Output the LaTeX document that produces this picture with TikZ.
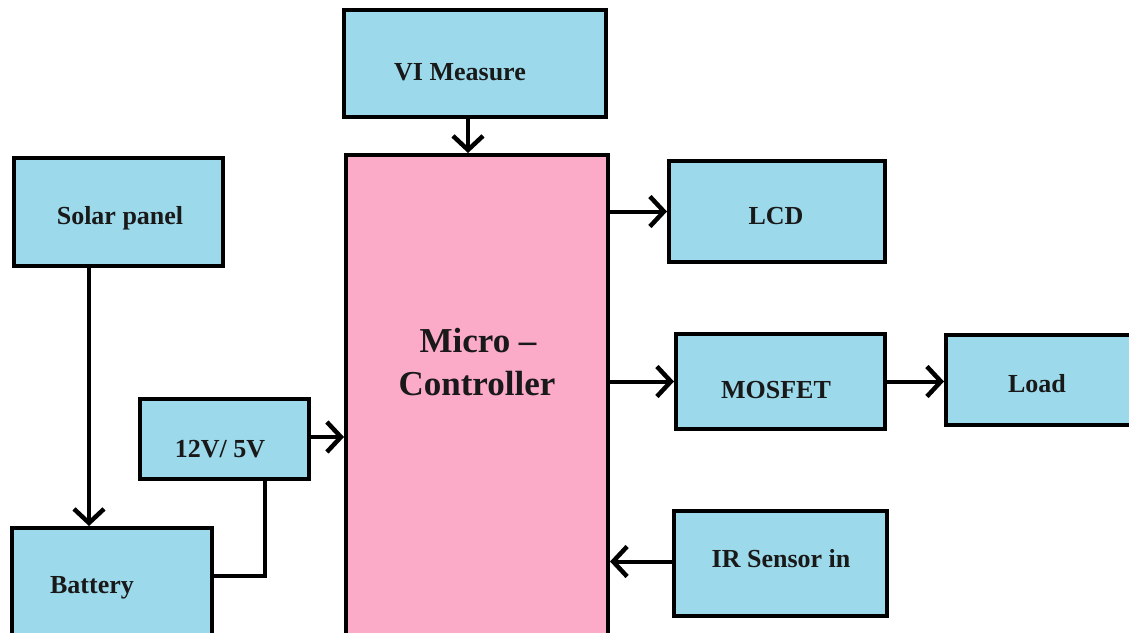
\documentclass[tikz,border=0pt]{standalone}
\usepackage{fontspec}
\setmainfont{Liberation Serif}
\usetikzlibrary{arrows.meta}
\definecolor{boxblue}{RGB}{156,218,235}
\definecolor{mcpink}{RGB}{251,170,200}
\definecolor{txt}{RGB}{25,25,25}
\begin{document}
\begin{tikzpicture}[x=1pt,y=-1pt,
  blk/.style={draw=black, line width=4pt, fill=boxblue, rectangle, inner sep=0pt},
  lbl/.style={text=txt, font=\bfseries\fontsize{26}{30}\selectfont, inner sep=0pt, anchor=base},
  biglbl/.style={text=txt, font=\bfseries\fontsize{35}{40}\selectfont, inner sep=0pt, anchor=base},
  conn/.style={line width=4pt, draw=black},
  arr/.style={conn, -{Straight Barb[length=14pt,width=30pt,line width=4.5pt]}}]
\useasboundingbox (0,0) rectangle (1129,632);
\clip (0,0) rectangle (1129,632);
\fill[white] (0,0) rectangle (1129,632);
% boxes
\node[blk, minimum width=262pt, minimum height=107pt] (vi) at (475,63.5) {};
\node[blk, minimum width=209pt, minimum height=108pt] (sol) at (118.5,212) {};
\node[blk, minimum width=169pt, minimum height=80pt] (v) at (224.5,439) {};
\node[blk, minimum width=200pt, minimum height=112pt] (bat) at (112,584) {};
\node[blk, fill=mcpink, minimum width=262pt, minimum height=485pt] (mc) at (477,397.5) {};
\node[blk, minimum width=216pt, minimum height=101pt] (lcd) at (777,211.5) {};
\node[blk, minimum width=209pt, minimum height=95pt] (mos) at (780.5,381.5) {};
\node[blk, minimum width=194pt, minimum height=90pt] (load) at (1043,380) {};
\node[blk, minimum width=213pt, minimum height=105pt] (ir) at (780.5,563.5) {};
% labels
\node[lbl] (tvi) at (460,80) {VI Measure};
\node[lbl] (tsol) at (120,224) {Solar panel};
\node[lbl] (tv) at (220,457) {12V/ 5V};
\node[lbl] (tbat) at (92,593) {Battery};
\node[biglbl] (tmc1) at (478,352) {Micro –};
\node[biglbl] (tmc2) at (477,395) {Controller};
\node[lbl] (tlcd) at (776,224) {LCD};
\node[lbl] (tmos) at (776,398) {MOSFET};
\node[lbl] (tload) at (1037,392) {Load};
\node[lbl] (tir) at (781,567) {IR Sensor in};
% connectors
\draw[arr] ([xshift=-7pt]vi.south) -- ([xshift=-7pt]vi.south |- mc.north);
\draw[arr] ([xshift=-29.5pt]sol.south) -- ([xshift=-29.5pt]sol.south |- bat.north);
\draw[arr] ([yshift=2pt]v.east) -- ([yshift=2pt]v.east -| mc.west);
\draw[conn] ([yshift=8pt]bat.east) -| ([xshift=40.5pt]v.south);
\draw[arr] (lcd.west -| mc.east) -- (lcd.west);
\draw[arr] (mos.west -| mc.east) -- (mos.west);
\draw[arr] (mos.east) -- (mos.east -| load.west);
\draw[arr] ([yshift=2pt]ir.west) -- ([yshift=2pt]ir.west -| mc.east);
\end{tikzpicture}
\end{document}
